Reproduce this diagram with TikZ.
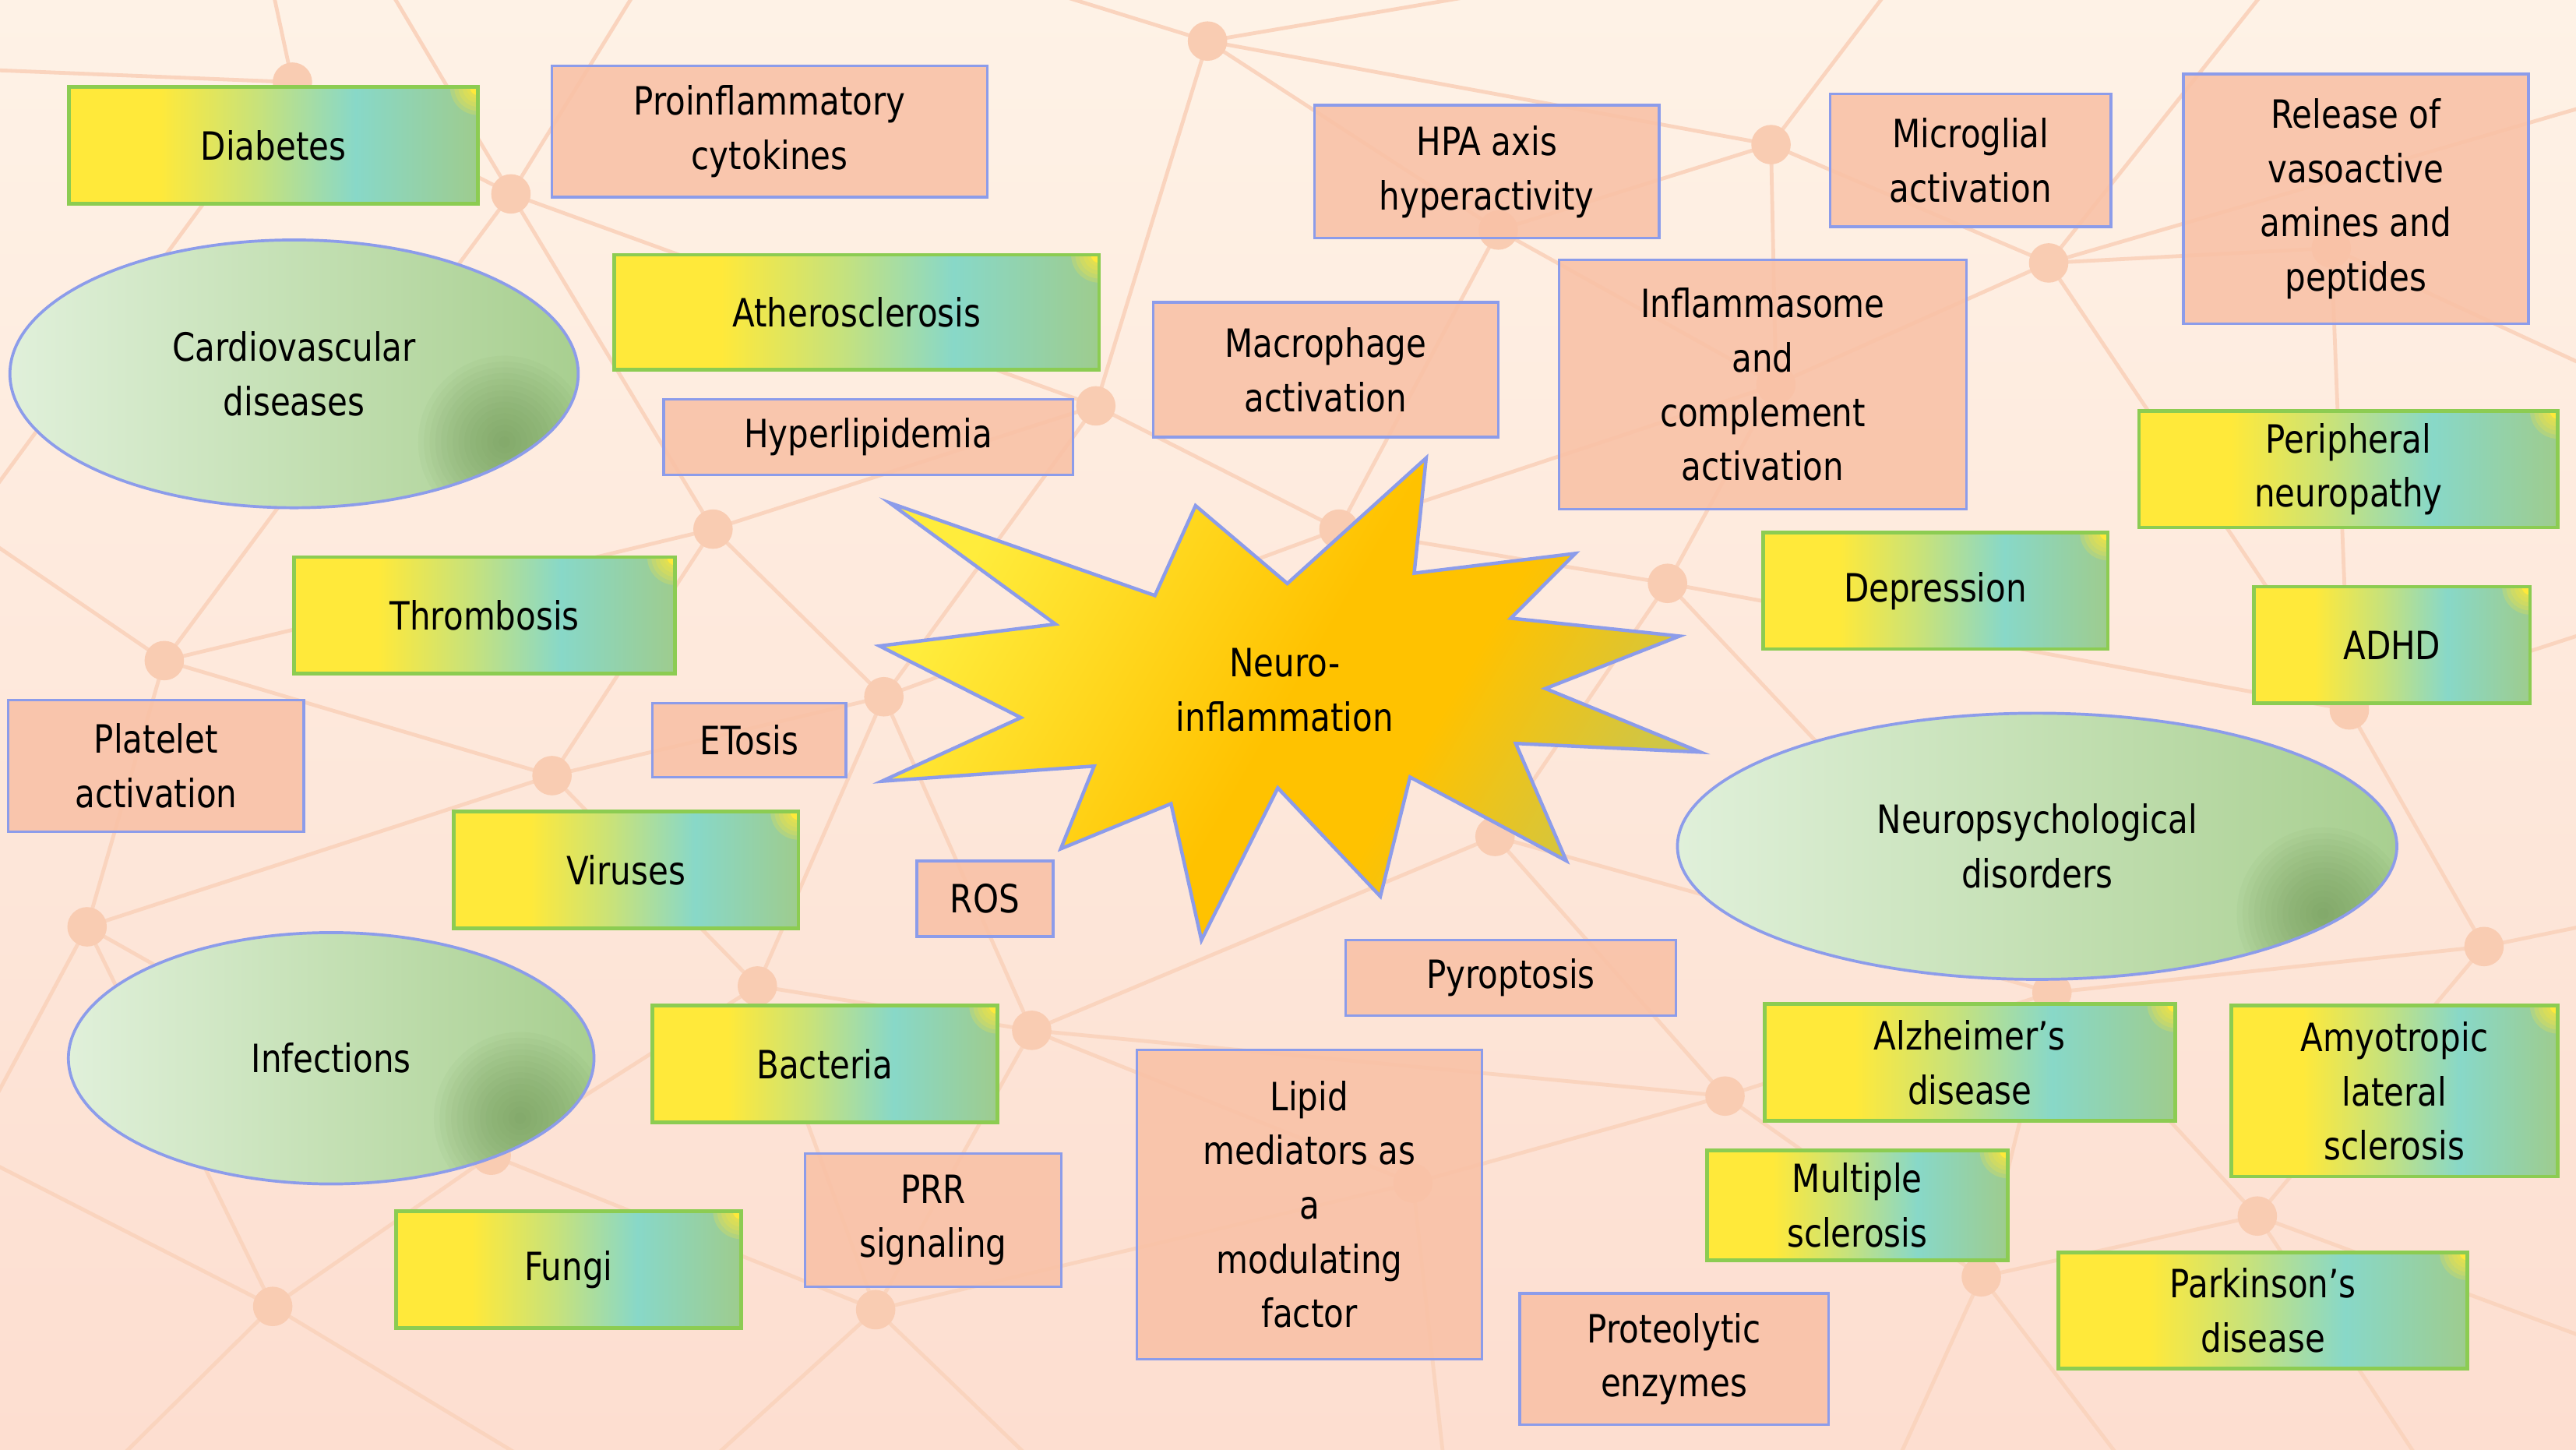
\documentclass[tikz,border=0pt]{standalone}
\usepackage{fontspec}
\setmainfont{DejaVu Sans}[FakeStretch=0.84]
\usepackage{tikz}
\usetikzlibrary{positioning,calc,shapes.geometric,shadings}
\definecolor{bgtop}{RGB}{254,242,230}
\definecolor{bgbottom}{RGB}{253,222,208}
\definecolor{netline}{RGB}{250,212,190}
\definecolor{netdot}{RGB}{249,204,178}
\definecolor{salmon}{RGB}{249,193,166}
\definecolor{periwinkle}{RGB}{140,156,234}
\definecolor{leafgreen}{RGB}{140,204,82}
\definecolor{boxyellow}{RGB}{255,233,58}
\definecolor{boxlime}{RGB}{200,226,122}
\definecolor{boxteal}{RGB}{136,216,200}
\definecolor{boxsage}{RGB}{158,204,142}
\definecolor{mintpale}{RGB}{224,240,218}
\definecolor{mintmid}{RGB}{196,224,180}
\definecolor{mintdeep}{RGB}{168,207,144}
\definecolor{mossdark}{RGB}{110,150,84}
\definecolor{sunyellow}{RGB}{255,236,60}
\definecolor{sunorange}{RGB}{255,194,0}
\definecolor{sunolive}{RGB}{206,198,72}
\pgfdeclarehorizontalshading{causefill}{100bp}{color(0bp)=(boxyellow); color(25bp)=(boxyellow); color(36bp)=(boxyellow); color(48bp)=(boxlime); color(60bp)=(boxteal); color(75bp)=(boxsage); color(100bp)=(boxsage)}
\pgfdeclarehorizontalshading{groupfill}{100bp}{color(0bp)=(mintpale); color(25bp)=(mintpale); color(50bp)=(mintmid); color(75bp)=(mintdeep); color(100bp)=(mintdeep)}
\pgfdeclarehorizontalshading{starfill}{100bp}{color(0bp)=(sunyellow); color(25bp)=(sunyellow); color(50bp)=(sunorange); color(60bp)=(sunorange); color(75bp)=(sunolive); color(100bp)=(sunolive)}
\newcommand{\diagfont}{\fontsize{13.5}{18.8}\selectfont}
\tikzset{
  causebox/.style={rectangle,shading=causefill,draw=leafgreen,line width=1.3pt,inner sep=0pt,align=center,font=\diagfont,
    path picture={\fill[boxyellow] (path picture bounding box.north east) circle (0.1cm);
      \foreach \r in {0.14,0.19,0.24,0.29,0.34} \fill[boxyellow,opacity=0.22] (path picture bounding box.north east) circle (\r cm);}},
  mechbox/.style={rectangle,fill=salmon,fill opacity=0.88,text opacity=1,draw=periwinkle,line width=0.9pt,inner sep=0pt,align=center,font=\diagfont},
  groupblob/.style={ellipse,shading=groupfill,draw=periwinkle,line width=1pt,inner sep=0pt,align=center,font=\diagfont,
    path picture={\foreach \r in {0.07,0.14,...,1.05} \fill[mossdark,opacity=0.06] ($(path picture bounding box.south east)+(-0.9cm,0.8cm)$) circle (\r cm);}},
  starburst/.style={shading=starfill,shading angle=-30,draw=periwinkle,line width=1.2pt,line join=miter},
  netedge/.style={draw=netline,line width=1.3pt},
  netnode/.style={fill=netdot}
}

\begin{document}
\begin{tikzpicture}[x=0.02cm,y=-0.02cm]
    \useasboundingbox (0,0) rectangle (1568,882);
    \shade[top color=bgtop,bottom color=bgbottom] (0,0) rectangle (1568,882);

    \begin{scope}
        \clip (0,0) rectangle (1568,882);
        \coordinate (n1) at (178,50);
        \coordinate (n2) at (311,118);
        \coordinate (n3) at (735,25);
        \coordinate (n4) at (1078,88);
        \coordinate (n5) at (1247,160);
        \coordinate (n6) at (434,322);
        \coordinate (n7) at (667,247);
        \coordinate (n8) at (100,402);
        \coordinate (n9) at (336,472);
        \coordinate (n10) at (538,424);
        \coordinate (n11) at (815,322);
        \coordinate (n12) at (1015,355);
        \coordinate (n13) at (910,509);
        \coordinate (n14) at (53,564);
        \coordinate (n15) at (461,600);
        \coordinate (n16) at (628,627);
        \coordinate (n17) at (1050,667);
        \coordinate (n18) at (166,795);
        \coordinate (n19) at (533,797);
        \coordinate (n20) at (1206,777);
        \coordinate (n21) at (1374,740);
        \coordinate (n22) at (1512,576);
        \coordinate (n23) at (299,703);
        \coordinate (n24) at (1081,234);
        \coordinate (n25) at (1419,151);
        \coordinate (n26) at (912,140);
        \coordinate (n27) at (1430,432);
        \coordinate (n28) at (1249,604);
        \coordinate (n29) at (860,720);
        \coordinate (o1) at (163,-20);
        \coordinate (o2) at (-20,42);
        \coordinate (o3) at (-20,320);
        \coordinate (o4) at (229,-20);
        \coordinate (o5) at (396,-20);
        \coordinate (o6) at (590,-20);
        \coordinate (o7) at (1000,-20);
        \coordinate (o8) at (1160,-20);
        \coordinate (o9) at (1390,-20);
        \coordinate (o10) at (1590,60);
        \coordinate (o11) at (1590,230);
        \coordinate (o12) at (1590,380);
        \coordinate (o13) at (1590,560);
        \coordinate (o14) at (1590,820);
        \coordinate (o15) at (1480,900);
        \coordinate (o16) at (1300,900);
        \coordinate (o17) at (1150,900);
        \coordinate (o18) at (880,900);
        \coordinate (o19) at (640,900);
        \coordinate (o20) at (420,900);
        \coordinate (o21) at (340,900);
        \coordinate (o22) at (60,900);
        \coordinate (o23) at (-20,700);

        \draw[netedge] (n1) -- (o1) (n1) -- (o2) (n1) -- (o3) (n1) -- (n2)
            (n2) -- (o4) (n2) -- (o5) (n2) -- (n6) (n2) -- (n7) (n2) -- (n8)
            (n3) -- (o6) (n3) -- (o7) (n3) -- (n26) (n3) -- (n7) (n3) -- (n4)
            (n4) -- (o8) (n4) -- (n5) (n4) -- (n24) (n4) -- (n26)
            (n5) -- (o9) (n5) -- (o10) (n5) -- (n25) (n5) -- (n24) (n5) -- (n27)
            (n6) -- (n7) (n6) -- (n10) (n6) -- (n9) (n6) -- (n8)
            (n7) -- (n11) (n7) -- (n10)
            (n8) -- (n9) (n8) -- (n14) (n8) -- (o3)
            (n9) -- (n10) (n9) -- (n15) (n9) -- (n14)
            (n10) -- (n11) (n10) -- (n15) (n10) -- (n16)
            (n11) -- (n12) (n11) -- (n13) (n11) -- (n24) (n11) -- (n26)
            (n12) -- (n24) (n12) -- (n13) (n12) -- (n27) (n12) -- (n28)
            (n13) -- (n16) (n13) -- (n17) (n13) -- (n28)
            (n14) -- (n23) (n14) -- (n18) (n14) -- (o23)
            (n15) -- (n16) (n15) -- (n23) (n15) -- (n19)
            (n16) -- (n19) (n16) -- (n29) (n16) -- (n17)
            (n17) -- (n20) (n17) -- (n28) (n17) -- (n29)
            (n18) -- (n23) (n18) -- (o22) (n18) -- (o21) (n18) -- (o23)
            (n19) -- (n23) (n19) -- (o20) (n19) -- (o19) (n19) -- (n29)
            (n20) -- (n21) (n20) -- (n28) (n20) -- (o17) (n20) -- (o16)
            (n21) -- (n22) (n21) -- (n28) (n21) -- (o14) (n21) -- (o15)
            (n22) -- (n27) (n22) -- (o13) (n22) -- (n28)
            (n25) -- (n27) (n25) -- (o11) (n27) -- (o12)
            (n29) -- (o18) (n24) -- (n26);
        \fill[netnode] (n1) circle (0.24cm) (n2) circle (0.24cm) (n3) circle (0.24cm) (n4) circle (0.24cm)
            (n5) circle (0.24cm) (n6) circle (0.24cm) (n7) circle (0.24cm) (n8) circle (0.24cm)
            (n9) circle (0.24cm) (n10) circle (0.24cm) (n11) circle (0.24cm) (n12) circle (0.24cm)
            (n13) circle (0.24cm) (n14) circle (0.24cm) (n15) circle (0.24cm) (n16) circle (0.24cm)
            (n17) circle (0.24cm) (n18) circle (0.24cm) (n19) circle (0.24cm) (n20) circle (0.24cm)
            (n21) circle (0.24cm) (n22) circle (0.24cm) (n23) circle (0.24cm) (n24) circle (0.24cm)
            (n25) circle (0.24cm) (n26) circle (0.24cm) (n27) circle (0.24cm) (n28) circle (0.24cm)
            (n29) circle (0.24cm);
    \end{scope}

    \node[causebox,minimum width=4.98cm,minimum height=1.42cm] (diabetes) at (166.5,88.5) {Diabetes};
    \node[causebox,minimum width=5.9cm,minimum height=1.4cm] (athero) at (521.5,190) {Atherosclerosis};
    \node[causebox,minimum width=4.64cm,minimum height=1.42cm] (thrombo) at (295,374.5) {Thrombosis};
    \node[causebox,minimum width=4.2cm,minimum height=1.42cm] (viruses) at (381,529.5) {Viruses};
    \node[causebox,minimum width=4.2cm,minimum height=1.42cm] (bacteria) at (502,647.5) {Bacteria};
    \node[causebox,minimum width=4.2cm,minimum height=1.42cm] (fungi) at (346,772.5) {Fungi};
    \node[causebox,minimum width=4.2cm,minimum height=1.42cm] (depress) at (1178,359.5) {Depression};
    \node[causebox,minimum width=5.1cm,minimum height=1.42cm] (neuropathy) at (1429.5,285.5) {Peripheral\\neuropathy};
    \node[causebox,minimum width=3.36cm,minimum height=1.42cm] (adhd) at (1456,392.5) {ADHD};
    \node[causebox,minimum width=5cm,minimum height=1.42cm] (alzheimer) at (1199,646.5) {Alzheimer’s\\disease};
    \node[causebox,minimum width=3.98cm,minimum height=2.08cm] (als) at (1457.5,664) {Amyotropic\\lateral\\sclerosis};
    \node[causebox,minimum width=3.66cm,minimum height=1.34cm] (ms) at (1130.5,733.5) {Multiple\\sclerosis};
    \node[causebox,minimum width=4.98cm,minimum height=1.42cm] (parkinson) at (1377.5,797.5) {Parkinson’s\\disease};

    \node[mechbox,minimum width=5.3cm,minimum height=1.6cm] (cytokines) at (468.5,80) {Proinflammatory\\cytokines};
    \node[mechbox,minimum width=4.98cm,minimum height=0.92cm] (hyperlip) at (528.5,266) {Hyperlipidemia};
    \node[mechbox,minimum width=3.6cm,minimum height=1.6cm] (platelet) at (95,466) {Platelet\\activation};
    \node[mechbox,minimum width=2.36cm,minimum height=0.9cm] (etosis) at (456,450.5) {ETosis};
    \node[mechbox,minimum width=1.66cm,minimum height=0.92cm] (ros) at (599.5,547) {ROS};
    \node[mechbox,minimum width=3.12cm,minimum height=1.62cm] (prr) at (568,742.5) {PRR\\signaling};
    \node[mechbox,minimum width=4.2cm,minimum height=3.76cm] (lipid) at (797,733) {Lipid\\mediators as\\a\\modulating\\factor};
    \node[mechbox,minimum width=4.02cm,minimum height=0.92cm] (pyro) at (919.5,595) {Pyroptosis};
    \node[mechbox,minimum width=3.76cm,minimum height=1.6cm] (proteo) at (1019,827) {Proteolytic\\enzymes};
    \node[mechbox,minimum width=4.2cm,minimum height=1.64cm] (macro) at (807,225) {Macrophage\\activation};
    \node[mechbox,minimum width=4.2cm,minimum height=1.62cm] (hpa) at (905,104.5) {HPA axis\\hyperactivity};
    \node[mechbox,minimum width=3.42cm,minimum height=1.62cm] (microglia) at (1199.5,97.5) {Microglial\\activation};
    \node[mechbox,minimum width=4.96cm,minimum height=3.04cm] (inflamm) at (1073,234) {Inflammasome\\and\\complement\\activation};
    \node[mechbox,minimum width=4.2cm,minimum height=3.04cm] (vasoactive) at (1434,121) {Release of\\vasoactive\\amines and\\peptides};

    \node[groupblob,minimum width=6.92cm,minimum height=3.26cm] (cardio) at (179,227.5) {Cardiovascular\\diseases};
    \node[groupblob,minimum width=6.4cm,minimum height=3.06cm] (infect) at (201.6,644) {Infections};
    \node[groupblob,minimum width=8.76cm,minimum height=3.24cm] (neuropsych) at (1240,515) {Neuropsychological\\disorders};

    \draw[starburst] (541.5,306) -- (703,362.4) -- (727.7,307.7) -- (783.6,355.1) -- (868.1,278.7)
        -- (860.8,348.8) -- (958.9,336.8) -- (919.6,376.2) -- (1022.3,387.1) -- (940.7,419)
        -- (1035,457.7) -- (922.6,452.4) -- (953.4,523.8) -- (858.3,472.9) -- (840.2,545.5)
        -- (777.8,479.5) -- (731.3,572.1) -- (712.8,489.1) -- (645.7,516.5) -- (666,466.2)
        -- (536.8,475.4) -- (621.4,436.7) -- (535.4,393.1) -- (642.4,379.8) -- cycle;
    \node[align=center,font=\diagfont] (neuroinfl) at (782,420) {Neuro-\\inflammation};
\end{tikzpicture}
\end{document}
